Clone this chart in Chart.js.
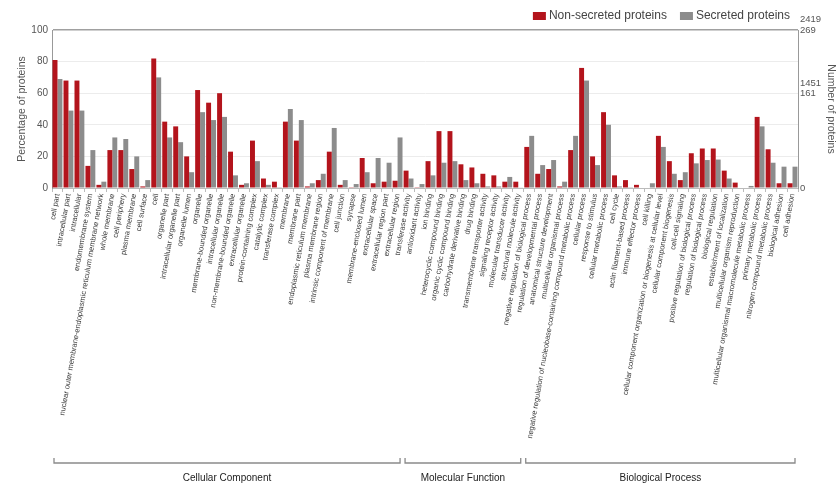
<!DOCTYPE html>
<html>
<head>
<meta charset="utf-8">
<script src="https://cdn.jsdelivr.net/npm/chart.js@4.4.1/dist/chart.umd.min.js"></script>
<style>
  html, body { margin: 0; padding: 0; background: #fff; }
  #wrap { width: 840px; height: 487px; }
</style>
</head>
<body>
<div id="wrap"><canvas id="go" width="840" height="487"></canvas></div>
<script>
// GO terms, in plotting order
const terms = [
  'cell part', 'intracellular part', 'intracellular', 'endomembrane system',
  'nuclear outer membrane-endoplasmic reticulum membrane network', 'whole membrane',
  'cell periphery', 'plasma membrane', 'cell surface', 'cell', 'organelle part',
  'intracellular organelle part', 'organelle lumen', 'organelle', 'membrane-bounded organelle',
  'intracellular organelle', 'non-membrane-bounded organelle', 'extracellular organelle',
  'protein-containing complex', 'catalytic complex', 'transferase complex', 'membrane',
  'membrane part', 'endoplasmic reticulum membrane', 'plasma membrane region',
  'intrinsic component of membrane', 'cell junction', 'synapse', 'membrane-enclosed lumen',
  'extracellular space', 'extracellular region part', 'extracellular region',
  'transferase activity', 'antioxidant activity', 'ion binding', 'heterocyclic compound binding',
  'organic cyclic compound binding', 'carbohydrate derivative binding', 'drug binding',
  'transmembrane transporter activity', 'signaling receptor activity',
  'molecular transducer activity', 'structural molecule activity',
  'negative regulation of biological process', 'regulation of developmental process',
  'anatomical structure development', 'multicellular organismal process',
  'negative regulation of nucleobase-containing compound metabolic process',
  'cellular process', 'response to stimulus',
  'cellular metabolic process', 'cell cycle', 'actin filament-based process',
  'immune effector process', 'cell killing',
  'cellular component organization or biogenesis at cellular level',
  'cellular component biogenesis', 'cell-cell signaling', 'positive regulation of biological process',
  'regulation of biological process', 'biological regulation', 'establishment of localization',
  'multicellular organism reproduction',
  'multicellular organismal macromolecule metabolic process',
  'primary metabolic process', 'nitrogen compound metabolic process', 'biological adhesion',
  'cell adhesion'
];

// Ontology groups (consecutive runs of terms)
const groupNames = ['Cellular Component', 'Molecular Function', 'Biological Process'];
const groupSizes = [32, 11, 25];

// Percentage of proteins annotated to each term
const nonSecretedPct = [
  81, 68, 68, 14, 2, 24, 24, 12, 1, 82,
  42, 39, 20, 62, 54, 60, 23, 2, 30, 6,
  4, 42, 30, 1, 5, 23, 2, 0.5, 19, 3,
  4, 4.6,
  11, 0.5, 17, 36, 36, 15, 13, 9, 8, 4, 4,
  26, 9, 12, 1, 24, 76, 20, 48, 8, 5,
  2, 0.3, 33, 17, 5, 22, 25, 25, 11, 3.4,
  0, 45, 24.5, 3, 3
];
const secretedPct = [
  69, 49, 49, 24, 4, 32, 31, 20, 5, 70,
  32, 29, 10, 48, 43, 45, 8, 3, 17, 2,
  0.5, 50, 43, 3, 9, 38, 5, 2.5, 10, 19,
  16, 32,
  6, 2.5, 8, 16, 17, 5, 3, 1, 1, 7, 0.4,
  33, 14.5, 17.7, 4, 33, 68, 14.5, 40, 1, 0.5,
  0, 3, 26, 9, 10, 15.6, 17.7, 18, 6, 0,
  1.3, 39, 16, 13.5, 13.5
];

const seriesNames = ['Non-secreted proteins', 'Secreted proteins'];
const seriesColors = ['#b3141c', '#8c8c8c'];
// Total protein counts behind the percentages (right axis)
const seriesTotals = [2419, 269];
const rightTickPct = [0, 60, 100];

const FONT = '"Liberation Sans", Arial, sans-serif';

// Legend drawn above the plot, right aligned
const topLegend = {
  id: 'topLegend',
  afterDraw(chart) {
    const ctx = chart.ctx;
    const area = chart.chartArea;
    ctx.save();
    ctx.font = '12px ' + FONT;
    ctx.textBaseline = 'middle';
    const boxW = 13, boxH = 8, gap = 3, itemGap = 13, cy = 16;
    const items = chart.data.datasets.map(d => ({ text: d.label, color: d.backgroundColor }));
    let x = area.right - 8;
    for (let i = items.length - 1; i >= 0; i--) {
      const w = ctx.measureText(items[i].text).width;
      x -= w;
      ctx.fillStyle = '#444';
      ctx.fillText(items[i].text, x, cy);
      x -= gap + boxW;
      ctx.fillStyle = items[i].color;
      ctx.fillRect(x, cy - boxH / 2, boxW, boxH);
      x -= itemGap;
    }
    ctx.restore();
  }
};

// Brackets naming each ontology under the term labels
const groupBrackets = {
  id: 'groupBrackets',
  afterDraw(chart) {
    const xs = chart.scales.x;
    const ctx = chart.ctx;
    const step = xs.getPixelForValue(1) - xs.getPixelForValue(0);
    const lineY = 463, labelY = 478;
    ctx.save();
    ctx.strokeStyle = '#8a8a8a';
    ctx.lineWidth = 1.3;
    ctx.fillStyle = '#222';
    ctx.font = '10px ' + FONT;
    ctx.textAlign = 'center';
    ctx.textBaseline = 'middle';
    let start = 0;
    groupSizes.forEach((n, g) => {
      const x0 = xs.getPixelForValue(start) - step / 2 + 2;
      const x1 = xs.getPixelForValue(start + n - 1) + step / 2 - 3;
      ctx.beginPath();
      ctx.moveTo(x0, lineY - 5);
      ctx.lineTo(x0, lineY);
      ctx.lineTo(x1, lineY);
      ctx.lineTo(x1, lineY - 5);
      ctx.stroke();
      ctx.fillText(groupNames[g], (x0 + x1) / 2, labelY);
      start += n;
    });
    ctx.restore();
  }
};

new Chart(document.getElementById('go'), {
  type: 'bar',
  data: {
    labels: terms,
    datasets: [
      { label: seriesNames[0], data: nonSecretedPct, backgroundColor: seriesColors[0] },
      { label: seriesNames[1], data: secretedPct, backgroundColor: seriesColors[1] }
    ]
  },
  options: {
    responsive: false,
    animation: false,
    layout: { padding: { top: 30, left: 10, right: 0, bottom: 0 } },
    categoryPercentage: 0.9,
    barPercentage: 1.0,
    plugins: {
      legend: { display: false },
      tooltip: { enabled: false }
    },
    scales: {
      x: {
        afterFit(s) { s.height = 299; },
        grid: { display: true, drawOnChartArea: false, drawTicks: true, tickLength: 4, color: '#bbb' },
        border: { display: true, color: '#bbb' },
        ticks: {
          autoSkip: false, minRotation: 80, maxRotation: 80, padding: 1,
          color: '#3a3a3a', font: { family: FONT, size: 7.5 }
        }
      },
      y: {
        position: 'left',
        min: 0, max: 100,
        afterFit(s) { s.width = 42; },
        ticks: { stepSize: 20, padding: 4, color: '#555', font: { family: FONT, size: 10 } },
        grid: {
          drawTicks: false,
          color: ctx => (ctx.tick && ctx.tick.value === 100) ? '#a0a0a0' : '#ececec',
          lineWidth: ctx => (ctx.tick && ctx.tick.value === 100) ? 1.5 : 1
        },
        border: { display: true, color: '#999' },
        title: {
          display: true, text: 'Percentage of proteins', color: '#555',
          font: { family: FONT, size: 10.5 }, padding: { top: 6, bottom: 0 }
        }
      },
      y2: {
        position: 'right',
        min: 0, max: 100,
        afterFit(s) { s.width = 42; },
        afterBuildTicks(s) { s.ticks = rightTickPct.map(v => ({ value: v })); },
        ticks: {
          padding: 2, labelOffset: -5, color: '#555',
          font: { family: FONT, size: 9.5, lineHeight: 1.1 },
          callback: v => v === 0 ? ['', '0'] : seriesTotals.map(t => String(Math.round(t * v / 100)))
        },
        grid: { drawOnChartArea: false, drawTicks: false },
        border: { display: true, color: '#999' },
        title: {
          display: true, text: 'Number of proteins', color: '#555',
          font: { family: FONT, size: 10.5 }, padding: { top: 3, bottom: 0 }
        }
      }
    }
  },
  plugins: [topLegend, groupBrackets]
});
</script>
</body>
</html>
